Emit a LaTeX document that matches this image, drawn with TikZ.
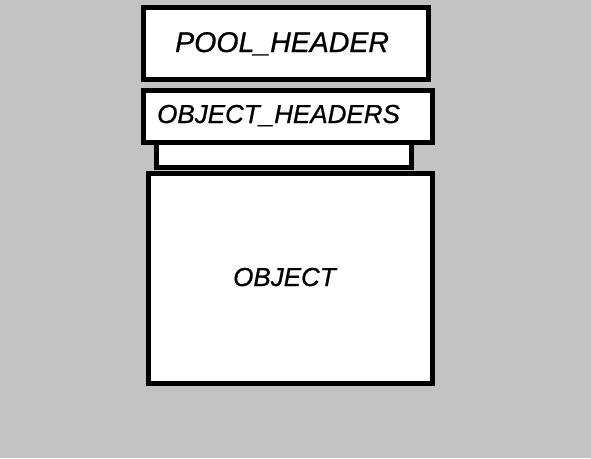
\documentclass[tikz,border=0pt]{standalone}
\usepackage{fontspec}
\setmainfont{Liberation Sans}
\newfontfamily\boxfont{Liberation Sans Italic}[FakeBold=0.8]
\usepackage{tikz}
\definecolor{bggray}{RGB}{195,195,195}
\tikzset{
    box/.style={draw=black, fill=white, line width=5pt},
    boxtext/.style={inner sep=0pt, anchor=base west, font=\boxfont\fontsize{26}{30}\selectfont}
}

\begin{document}
\begin{tikzpicture}[x=1pt,y=-1pt]
    		\fill[bggray] (0,0) rectangle (591,458);
    		\useasboundingbox (0,0) rectangle (591,458);
    		\draw[box] (143.5,7.5) rectangle (428.5,79.5);
    		\draw[box] (156.5,142.5) rectangle (411.5,167.5);
    		\draw[box] (143.5,90.5) rectangle (432.5,142.5);
    		\draw[box] (148.5,173.5) rectangle (432.5,383.5);
    		\node[boxtext, font=\boxfont\fontsize{28.5}{32}\selectfont] (pool) at (175,52) {POOL\_HEADER};
    		\node[boxtext] (headers) at (157,123) {OBJECT\_HEADERS};
    		\node[boxtext] (object) at (233,286) {OBJECT};
        \end{tikzpicture}
\end{document}
